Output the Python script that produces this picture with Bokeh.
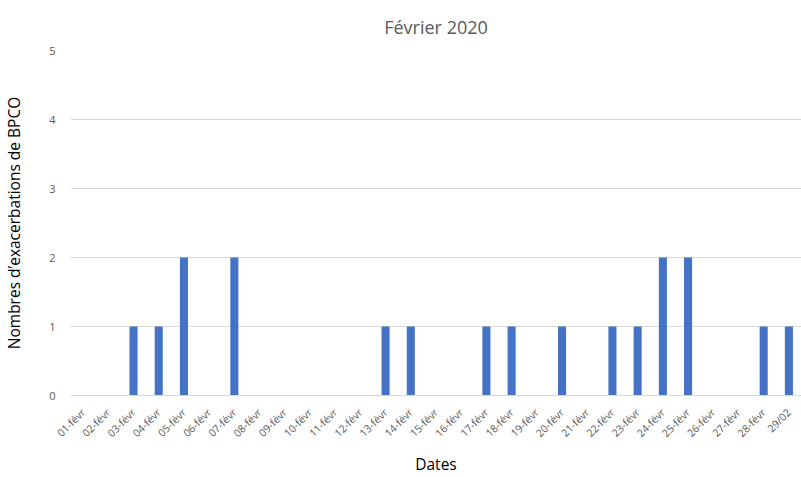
import math
from bokeh.plotting import figure
from bokeh.models import FixedTicker, Range1d
from bokeh.embed import file_html
from bokeh.resources import INLINE

dates = ["01-févr", "02-févr", "03-févr", "04-févr", "05-févr", "06-févr", "07-févr",
         "08-févr", "09-févr", "10-févr", "11-févr", "12-févr", "13-févr", "14-févr",
         "15-févr", "16-févr", "17-févr", "18-févr", "19-févr", "20-févr", "21-févr",
         "22-févr", "23-févr", "24-févr", "25-févr", "26-févr", "27-févr", "28-févr", "29/02"]
counts = [0, 0, 1, 1, 2, 0, 2,
          0, 0, 0, 0, 0, 1, 1,
          0, 0, 1, 1, 0, 1, 0,
          1, 1, 2, 2, 0, 0, 1, 1]
y_ticks = [0, 1, 2, 3, 4, 5]

FONT = "Open Sans"
TXT = "#595959"

p = figure(x_range=dates, y_range=Range1d(0, 5), width=801, height=477,
           output_backend="svg", toolbar_location=None,
           title="Février 2020",
           min_border_left=18, min_border_right=0, min_border_top=0, min_border_bottom=0)

p.vbar(x=dates, top=counts, width=0.32, color="#4472c4", line_color=None)

p.title.align = "center"
p.title.text_font = FONT
p.title.text_font_size = "18px"
p.title.text_font_style = "normal"
p.title.text_color = TXT
p.title.standoff = 24

p.outline_line_color = None
p.xgrid.grid_line_color = None
p.ygrid.grid_line_color = "#d9d9d9"
p.ygrid.grid_line_width = 1

p.yaxis.ticker = FixedTicker(ticks=y_ticks)
p.yaxis.axis_line_color = None
p.yaxis.major_tick_line_color = None
p.yaxis.minor_tick_line_color = None
p.yaxis.major_label_text_font = FONT
p.yaxis.major_label_text_font_size = "11px"
p.yaxis.major_label_text_color = TXT
p.yaxis.major_label_standoff = 9
p.yaxis.axis_label = "Nombres d’exacerbations de BPCO"
p.yaxis.axis_label_text_font = FONT
p.yaxis.axis_label_text_font_size = "15.5px"
p.yaxis.axis_label_text_font_style = "normal"
p.yaxis.axis_label_text_color = "#000000"
p.yaxis.axis_label_standoff = 21

p.xaxis.axis_line_color = "#d9d9d9"
p.xaxis.major_tick_line_color = None
p.xaxis.minor_tick_line_color = None
p.xaxis.major_label_orientation = math.pi / 4
p.xaxis.major_label_text_font = FONT
p.xaxis.major_label_text_font_size = "10.5px"
p.xaxis.major_label_text_color = TXT
p.xaxis.major_label_standoff = 9
p.xaxis.axis_label = "Dates"
p.xaxis.axis_label_text_font = FONT
p.xaxis.axis_label_text_font_size = "15.5px"
p.xaxis.axis_label_text_font_style = "normal"
p.xaxis.axis_label_text_color = "#000000"
p.xaxis.axis_label_standoff = 5

open("out.html", "w").write(file_html(p, INLINE))
